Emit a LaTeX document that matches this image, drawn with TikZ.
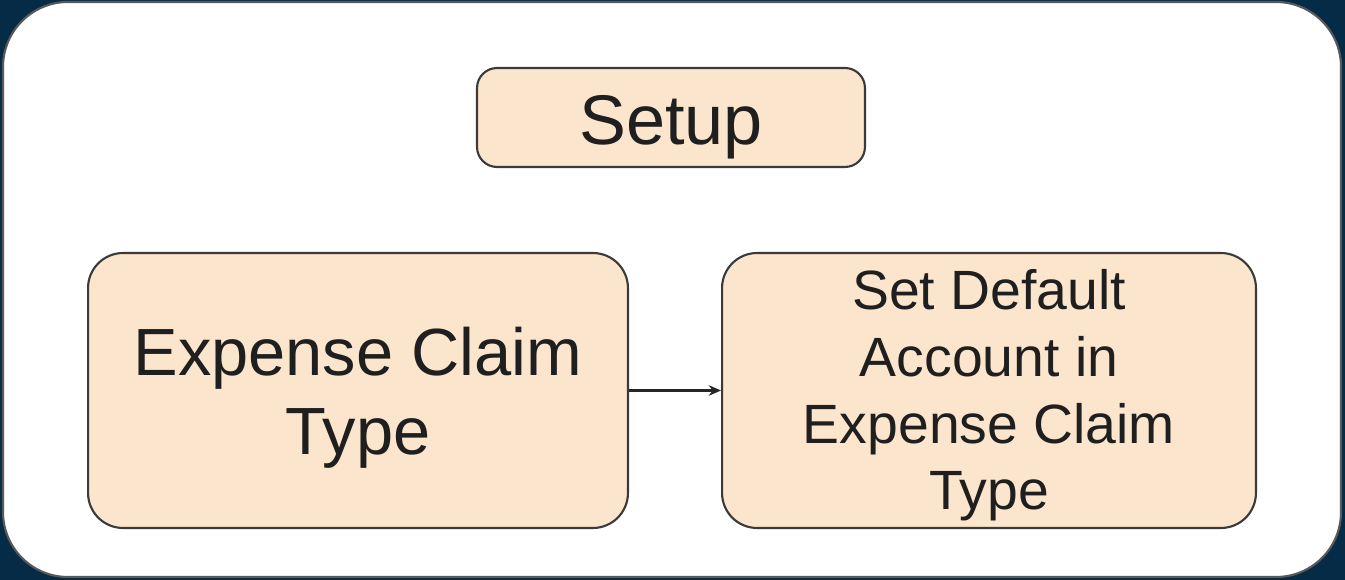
\documentclass[tikz,border=0pt]{standalone}
\usepackage{fontspec}
\setmainfont{Liberation Sans}
\usetikzlibrary{arrows.meta}
\definecolor{navy}{HTML}{062B47}
\definecolor{peach}{HTML}{FCE5CD}
\definecolor{edge}{HTML}{3A3A3A}
\tikzset{
	box/.style={draw=edge,line width=1.2pt,fill=peach,inner sep=0pt},
	txt/.style={align=center,inner sep=0pt,text=black!88},
}
\begin{document}
\begin{tikzpicture}[x=0.02cm,y=-0.02cm]
		\useasboundingbox (0,0) rectangle (1345,580);
		\fill[navy] (0,0) rectangle (1345,580);
		\draw[draw=gray!70!black,line width=1.2pt,fill=white,rounded corners=1.3cm] (3,2) rectangle (1341,577);
		% boxes
		\node[box,rounded corners=0.4cm,minimum width=7.76cm,minimum height=1.98cm] (setup) at (671,117.5) {};
		\node[box,rounded corners=0.7cm,minimum width=10.8cm,minimum height=5.5cm] (type) at (358,390.5) {};
		\node[box,rounded corners=0.7cm,minimum width=10.68cm,minimum height=5.5cm] (account) at (989,390.5) {};
		% texts
		\node[txt,font=\fontsize{40}{44}\selectfont] (setup-t) at ([yshift=-0.19cm]setup.center) {Setup};
		\node[txt,font=\fontsize{38}{45}\selectfont] (type-t) at ([yshift=-0.14cm]type.center) {Expense Claim\\Type};
		\node[txt,font=\fontsize{31.5}{38}\selectfont] (account-t) at ([yshift=-0.1cm]account.center) {Set Default\\Account in\\Expense Claim\\Type};
		% arrow
		\draw[-{Stealth[length=7pt,width=6pt]},line width=1.4pt,black!85] (type.east) -- (account.west);
	\end{tikzpicture}
\end{document}
